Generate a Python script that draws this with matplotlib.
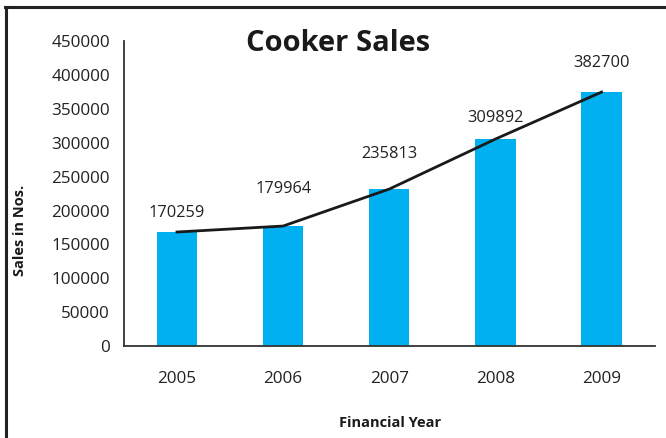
import matplotlib.pyplot as plt
from matplotlib.lines import Line2D
import numpy as np

plt.rcParams['font.family'] = ['Open Sans', 'DejaVu Sans']

# data
years = ['2005', '2006', '2007', '2008', '2009']
sales = [168300, 177100, 231700, 305500, 374900]   # bar heights as drawn
labels = ['170259', '179964', '235813', '309892', '382700']
label_offsets = [14, 27, 25, 15, 21]

fig = plt.figure(figsize=(6.66, 4.38), dpi=100)
ax = fig.add_axes([0.186, 0.21, 0.797, 0.696])

x = np.arange(len(years))
ax.bar(x, sales, width=0.38, color='#00B0F0', zorder=2)
ax.plot(x, sales, color='#1a1a1a', lw=2, zorder=3)
for xi, v, txt, off in zip(x, sales, labels, label_offsets):
    ax.annotate(txt, (xi, v), xytext=(0, off), textcoords='offset points',
                ha='center', va='center', fontsize=11.8, color='#222222')

ax.set_xlim(-0.5, len(years) - 0.5)
ax.set_ylim(0, 450000)
ax.set_yticks(np.arange(0, 450001, 50000))
ax.set_xticks(x, years)
ax.tick_params(length=0, labelsize=12.3, colors='#222222', pad=10)
ax.tick_params(axis='x', pad=18)
for s in ['top', 'right']:
    ax.spines[s].set_visible(False)
for s in ['left', 'bottom']:
    ax.spines[s].set_color('#333333')
    ax.spines[s].set_linewidth(1.3)

fig.text(0.508, 0.9, 'Cooker Sales', ha='center', va='center', fontsize=21,
         fontweight='bold', color='#1a1a1a')
fig.text(0.03, 0.475, 'Sales in Nos.', rotation=90, ha='center', va='center',
         fontsize=10.5, fontweight='bold', color='#1a1a1a')
fig.text(0.585, 0.035, 'Financial Year', ha='center', va='center',
         fontsize=10.5, fontweight='bold', color='#1a1a1a')

# outer frame (left and top only, picture is cropped)
fig.add_artist(Line2D([0.009, 0.009], [0.0, 0.985], color='#222222', lw=2.2))
fig.add_artist(Line2D([0.008, 1.0], [0.985, 0.985], color='#222222', lw=2.2))

fig.savefig('out.png', dpi=100)
